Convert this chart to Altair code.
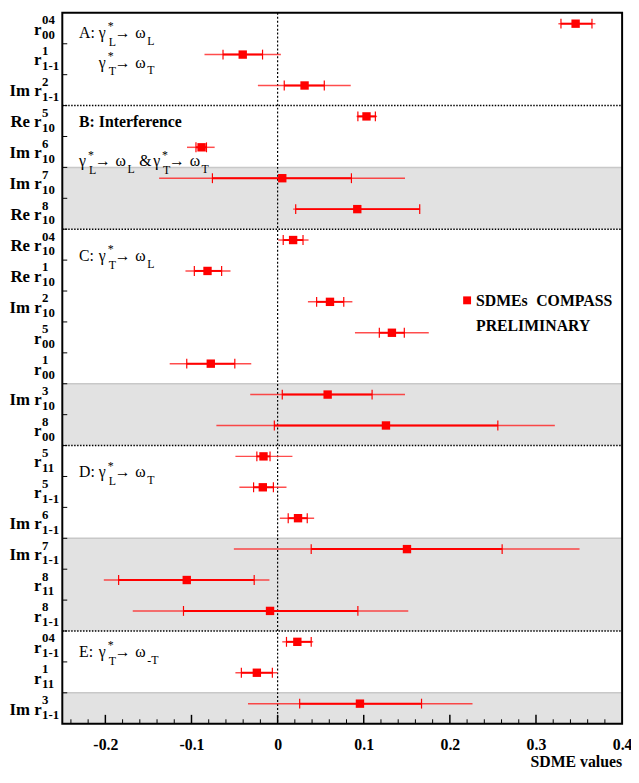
import altair as alt
import pandas as pd

W, H = 567, 720
FONT = "Liberation Serif, Times New Roman, Times, Nimbus Roman, DejaVu Serif, serif"

# ---- data -------------------------------------------------------------
main_lbl = ["r", "r", "Im r", "Re r", "Im r", "Im r", "Re r",
            "Re r", "Re r", "Im r", "r", "r", "Im r", "r",
            "r", "r", "Im r", "Im r", "r", "r",
            "r", "r", "Im r"]
sup_lbl = ["04", "1", "2", "5", "6", "7", "8",
           "04", "1", "2", "5", "1", "3", "8",
           "5", "5", "6", "7", "8", "8",
           "04", "1", "3"]
sub_lbl = ["00", "1-1", "1-1", "10", "10", "10", "10",
           "10", "10", "10", "00", "00", "10", "00",
           "11", "1-1", "1-1", "1-1", "11", "1-1",
           "1-1", "11", "1-1"]
value = [0.346, -0.0405, 0.0313, 0.1032, -0.0883, 0.0054, 0.0925,
         0.018, -0.0814, 0.0608, 0.1327, -0.0776, 0.0581, 0.1258,
         -0.0164, -0.0172, 0.0237, 0.1502, -0.1055, -0.0088,
         0.0229, -0.0241, 0.0956]
stat_lo = [0.329, -0.0634, 0.0077, 0.0932, -0.0948, -0.0757, 0.021,
           0.0065, -0.0967, 0.0453, 0.1181, -0.1055, 0.0054, -0.0038,
           -0.0241, -0.0279, 0.0123, 0.039, -0.1846, -0.1093,
           0.0103, -0.0421, 0.0256]
stat_hi = [0.365, -0.0175, 0.0542, 0.1135, -0.0826, 0.0857, 0.165,
           0.0295, -0.065, 0.0768, 0.1471, -0.0497, 0.1097, 0.2557,
           -0.0088, -0.0049, 0.0344, 0.2607, -0.0272, 0.0932,
           0.039, -0.0061, 0.1671]
tot_lo = [0.326, -0.0849, -0.0229, 0.0917, -0.1052, -0.1376, 0.018,
          0.0008, -0.107, 0.0352, 0.0898, -0.1253, -0.0318, -0.0711,
          -0.049, -0.0444, 0.0026, -0.0508, -0.2018, -0.1682,
          0.0054, -0.049, -0.0344]
tot_hi = [0.369, 0.0038, 0.0849, 0.1155, -0.0731, 0.1479, 0.1655,
          0.0359, -0.0547, 0.0868, 0.1755, -0.0306, 0.1479, 0.3219,
          0.0172, 0.0103, 0.0424, 0.3506, -0.0095, 0.1517,
          0.0413, 0.0, 0.2263]

band_from = [5, 12, 17, 22]
band_to = [7, 14, 20, 23]
dividers = [3, 7, 14, 20]
major_ticks = [-0.2, -0.1, 0.0, 0.1, 0.2, 0.3]
minor_ticks = [-0.24, -0.22, -0.18, -0.16, -0.14, -0.12, -0.08, -0.06, -0.04,
               -0.02, 0.02, 0.04, 0.06, 0.08, 0.12, 0.14, 0.16, 0.18, 0.22,
               0.24, 0.26, 0.28, 0.32, 0.34, 0.36, 0.38]
axis_values = [-0.2, -0.1, 0.0, 0.1, 0.2, 0.3, 0.4]

N = len(value)
df = pd.DataFrame({
    "row": [i + 0.35 for i in range(N)],
    "val": value, "slo": stat_lo, "shi": stat_hi, "tlo": tot_lo, "thi": tot_hi,
    "main": main_lbl, "sup": sup_lbl, "sub": sub_lbl,
})
ticks_long = pd.DataFrame({
    "row": list(df["row"]) * 2,
    "t": stat_lo + stat_hi,
})
bands = pd.DataFrame({"y0": band_from, "y1": band_to})
divs = pd.DataFrame({"b": dividers})
ybound = pd.DataFrame({"b": list(range(1, N))})
zero = pd.DataFrame({"z": [0.0]})
majors = pd.DataFrame({"t": major_ticks})
minors = pd.DataFrame({"t": minor_ticks})
one = pd.DataFrame({"d": [0]})

xscale = alt.Scale(domain=[-0.25, 0.4], nice=False, zero=False)
yscale = alt.Scale(domain=[0, N], reverse=True, nice=False, zero=False)
xaxis = alt.Axis(
    values=axis_values,
    labelExpr="datum.value == 0 ? '0' : (datum.value < 0 ? '-' + format(-datum.value, '.1f') : format(datum.value, '.1f'))",
    labelFont=FONT, labelFontSize=16, labelFontWeight="bold", labelColor="black",
    ticks=False, tickSize=0, domain=False, grid=False, labelPadding=26,
    labelBaseline="alphabetic", labelOverlap=False, labelFlush=False, title=None,
)


def X(f):
    return alt.X(f, scale=xscale, axis=xaxis)


def Y(f):
    return alt.Y(f, scale=yscale, axis=None)


layers = []
# shaded bands
layers.append(alt.Chart(bands).mark_rect(color="#e2e2e2").encode(
    x=alt.value(0), x2=alt.value(W), y=Y("y0:Q"), y2="y1:Q"))
layers.append(alt.Chart(bands).mark_rule(color="#c8c8c8", strokeWidth=1.5).encode(
    x=alt.value(0), x2=alt.value(W), y=Y("y0:Q")))
# dividers
layers.append(alt.Chart(divs).mark_rule(color="black", strokeWidth=1.5, strokeDash=[1.5, 1.5]).encode(
    x=alt.value(0), x2=alt.value(W), y=Y("b:Q")))
# zero line
layers.append(alt.Chart(zero).mark_rule(color="black", strokeWidth=1.2, strokeDash=[2, 2]).encode(
    x=X("z:Q"), y=alt.value(0), y2=alt.value(H)))
# y-axis ticks
layers.append(alt.Chart(ybound).mark_rule(color="black", strokeWidth=1).encode(
    y=Y("b:Q"), x=alt.value(0), x2=alt.value(5)))
# x-axis ticks
layers.append(alt.Chart(majors).mark_rule(color="black", strokeWidth=1.5).encode(
    x=X("t:Q"), y=alt.value(H), y2=alt.value(H - 9)))
layers.append(alt.Chart(minors).mark_rule(color="black", strokeWidth=1).encode(
    x=X("t:Q"), y=alt.value(H), y2=alt.value(H - 4.5)))
# error bars
layers.append(alt.Chart(df).mark_rule(color="#ff2020", strokeWidth=1.5, opacity=0.8).encode(
    x=X("tlo:Q"), x2="thi:Q", y=Y("row:Q")))
layers.append(alt.Chart(df).mark_rule(color="red", strokeWidth=2).encode(
    x=X("slo:Q"), x2="shi:Q", y=Y("row:Q")))
layers.append(alt.Chart(ticks_long).mark_rule(color="red", strokeWidth=1.2, yOffset=-5, y2Offset=5).encode(
    x=X("t:Q"), y=Y("row:Q"), y2="row"))
layers.append(alt.Chart(df).mark_square(color="red", size=72, opacity=1).encode(
    x=X("val:Q"), y=Y("row:Q")))

# y labels
layers.append(alt.Chart(df).mark_text(font=FONT, fontSize=17, fontWeight="bold", align="right",
                                      baseline="alphabetic", dy=11, color="black").encode(
    x=alt.value(-21), y=Y("row:Q"), text="main:N"))
layers.append(alt.Chart(df).mark_text(font=FONT, fontSize=13, fontWeight="bold", align="left",
                                      baseline="alphabetic", dy=0.5, color="black").encode(
    x=alt.value(-20.5), y=Y("row:Q"), text="sup:N"))
layers.append(alt.Chart(df).mark_text(font=FONT, fontSize=13, fontWeight="bold", align="left",
                                      baseline="alphabetic", dy=15.5, color="black").encode(
    x=alt.value(-20.5), y=Y("row:Q"), text="sub:N"))


def txt(s, x, y, size=16, weight="normal", align="left"):
    px = x - 63
    py = (y - 3) * H / 727
    return alt.Chart(one).mark_text(text=s, font=FONT, fontSize=size, fontWeight=weight, align=align,
                                    baseline="alphabetic", color="black").encode(
        x=alt.value(px), y=alt.value(py))


def gamma(x0, base, s1, s2):
    return [
        txt("\u03b3", x0, base),
        txt("*", x0 + 9, base - 8, 12),
        txt(s1, x0 + 10, base + 8, 12),
        txt("\u2192", x0 + 16, base),
        txt("\u03c9", x0 + 37, base),
        txt(s2, x0 + 49, base + 7, 12),
    ]


layers += [txt("A:", 80, 29)] + gamma(100, 29, "L", "L")
layers += gamma(100, 59, "T", "T")
layers += [txt("B: Interference", 80, 120, 16, "bold")]
layers += gamma(80, 160, "L", "L") + [txt("&", 141, 160)] + gamma(155, 160, "T", "T")
layers += [txt("C:", 80, 257)] + gamma(100, 257, "T", "L")
layers += [txt("D:", 80, 478)] + gamma(100, 478, "L", "T")
layers += [txt("E:", 80, 662)] + gamma(100, 662, "T", "-T")

# legend
layers.append(alt.Chart(one).mark_square(color="red", size=64, opacity=1).encode(
    x=alt.value(473 - 63), y=alt.value((297 - 3) * H / 727)))
layers += [txt("SDMEs", 482, 303, 16, "bold"), txt("COMPASS", 543, 303, 16, "bold"),
           txt("PRELIMINARY", 482, 328, 16, "bold")]

# axis title
layers.append(alt.Chart(one).mark_text(text="SDME values", font=FONT, fontSize=16, fontWeight="bold",
                                       align="right", baseline="alphabetic", color="black").encode(
    x=alt.value(W), y=alt.value(H + 44)))

# frame
layers.append(alt.Chart(one).mark_rect(filled=False, stroke="black", strokeWidth=2).encode(
    x=alt.value(0), x2=alt.value(W), y=alt.value(0), y2=alt.value(H)))

chart = alt.layer(*layers).properties(
    width=W, height=H,
    autosize=alt.AutoSizeParams(type="none"),
    padding={"left": 55, "top": 0, "right": 9, "bottom": 47},
).configure_view(stroke=None)

chart.save("out.html", embed_options={"renderer": "svg", "actions": False})
